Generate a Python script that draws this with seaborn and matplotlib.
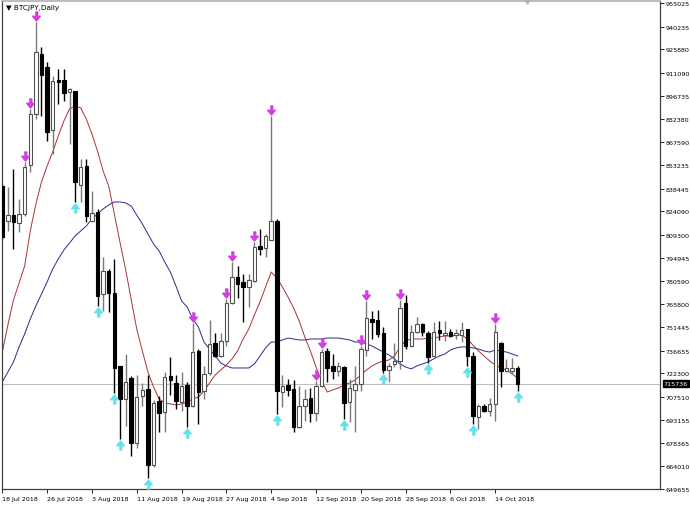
import numpy as np
import pandas as pd
import matplotlib
matplotlib.use("Agg")
import matplotlib.pyplot as plt
import matplotlib.transforms as mtransforms
import seaborn as sns

# daily BTCJPY candles, 18 Jul 2018 .. 18 Oct 2018
opens = [840000, 818100, 821800, 816800, 822500, 853200, 885300, 923000, 914800, 875200,
         906600, 906600, 899100, 899700, 840700, 852600, 818100, 823700, 772200, 786600,
         772800, 727000, 706200, 719400, 678600, 708100, 712500, 664800, 705000, 698100,
         720700, 716300, 704300, 715000, 701800, 736400, 711200, 722600, 741400, 733200,
         742700, 766500, 782900, 779700, 776600, 780400, 802300, 801100, 806100, 818100,
         710600, 715000, 712500, 688600, 701800, 706800, 697400, 714400, 736400, 727000,
         723800, 726300, 704300, 711900, 715600, 737000, 756500, 755900, 747700, 724400,
         728200, 730100, 766500, 739500, 748300, 753300, 747700, 733200, 749600, 746400,
         748300, 746400, 746400, 750200, 733200, 694900, 701800, 698700, 703100, 741400,
         723800, 723800, 725700]
highs = [841300, 839400, 850700, 831900, 855100, 888400, 943100, 927400, 918000, 909200,
         913600, 913600, 901600, 899700, 857000, 857000, 836900, 825600, 795400, 787900,
         794200, 727000, 734500, 720700, 721300, 716300, 721300, 705600, 708100, 723200,
         732600, 721300, 723200, 716900, 754000, 737600, 727000, 755900, 747700, 747700,
         769000, 792300, 789800, 784800, 784800, 804900, 813000, 809900, 884000, 819300,
         721300, 718800, 718200, 714400, 712500, 713100, 717500, 737600, 738300, 734500,
         729500, 727000, 718800, 727000, 739500, 767800, 761500, 762100, 751500, 728800,
         741400, 768400, 771600, 752700, 757700, 754000, 748900, 754600, 755200, 755200,
         750200, 750200, 754600, 750200, 735700, 703100, 703100, 706800, 753300, 742000,
         731400, 732000, 727000]
lows = [806700, 811800, 800500, 811100, 821200, 848800, 882100, 884000, 868300, 860200,
        891600, 893500, 866400, 830000, 830000, 817400, 817400, 764700, 761500, 760900,
        710000, 681100, 689300, 670400, 675400, 701800, 656600, 663500, 685500, 685500,
        708700, 699900, 698700, 688600, 701200, 690500, 706200, 721300, 732600, 732600,
        739500, 765900, 769700, 754600, 764000, 779700, 796700, 795400, 806100, 696800,
        701200, 708100, 685500, 688000, 692400, 691800, 692400, 713800, 716900, 718800,
        720700, 693700, 691800, 685500, 711200, 733200, 743900, 745200, 722600, 716900,
        726300, 725100, 737600, 738900, 747700, 745800, 728800, 732600, 743300, 742700,
        745200, 743900, 742000, 727000, 690500, 687400, 698000, 695500, 692400, 713800,
        723200, 721900, 711200]
closes = [808000, 821800, 817400, 822500, 852000, 885300, 924200, 909800, 874000, 906000,
          905400, 898500, 901000, 842600, 852000, 821200, 823100, 770900, 786600, 772800,
          725700, 706200, 716900, 678600, 707500, 711900, 664800, 703700, 697400, 720000,
          718200, 705000, 714400, 701800, 735700, 710600, 721900, 740800, 733200, 742700,
          766500, 782900, 778500, 776600, 781000, 801700, 800500, 808600, 818100, 711200,
          714400, 711900, 688600, 701800, 706200, 697400, 714400, 735700, 725700, 723800,
          727000, 703700, 713100, 715600, 737600, 757100, 754600, 747100, 724400, 727000,
          730100, 763400, 739500, 748300, 753300, 748300, 732600, 748300, 747700, 747700,
          745800, 747700, 749600, 733200, 695500, 701800, 698700, 703100, 748300, 723800,
          725700, 725700, 715736]

# moving averages as drawn on the chart
ma_fast = [735700, 752700, 768400, 779100, 789800, 811800, 828700, 842600, 852600, 861400,
           871500, 880900, 888400, 890300, 889100, 882100, 872700, 862000, 849500, 840000,
           822500, 804900, 787900, 769000, 750200, 736400, 723200, 713800, 706200, 703700,
           703100, 702500, 703100, 704300, 706200, 707500, 711200, 716300, 721300, 724400,
           727600, 731400, 736400, 743900, 750200, 759000, 767200, 776600, 786000, 782200,
           776600, 770300, 763400, 755200, 745200, 736400, 726300, 717500, 710600, 711900,
           713100, 715000, 716300, 718200, 721300, 724400, 727000, 728800, 730100, 730700,
           733200, 738900, 742700, 743900, 743900, 743900, 744500, 744500, 745200, 745800,
           745800, 746400, 746400, 743900, 740100, 736400, 733200, 730100, 727600, 725700,
           724400, 721900, 719400]
ma_slow = [716900, 723200, 729500, 738900, 747100, 756500, 764700, 772200, 779700, 787900,
           794200, 799800, 804200, 808600, 811800, 814900, 819300, 822500, 825600, 828100,
           830000, 830000, 829400, 827500, 821800, 816200, 809900, 803600, 799200, 792300,
           786000, 777200, 767800, 764000, 756500, 751500, 742000, 737600, 733200, 728800,
           727000, 725700, 725700, 725700, 725700, 728200, 733200, 738300, 742000, 742000,
           743300, 744500, 743900, 743300, 743300, 743900, 743900, 743900, 744500, 744500,
           744500, 743900, 743300, 742000, 742000, 740800, 739500, 737600, 735700, 733900,
           731400, 728200, 726300, 725100, 727000, 728200, 729500, 731400, 733200, 734500,
           737000, 738300, 738900, 738900, 738300, 737600, 736400, 735700, 737000, 736400,
           735700, 734500, 733200]

# candles marked by the arrow indicator
arrow_down = [4, 5, 6, 34, 40, 41, 45, 48, 56, 57, 64, 65, 71, 88]
arrow_up = [13, 17, 20, 21, 26, 33, 49, 61, 68, 76, 83, 84, 92]

ytick_vals = [955025, 940235, 925880, 911090, 896735, 882380, 867590, 853235, 838445,
              824090, 809300, 794945, 780590, 765800, 751445, 736655, 722300, 707510,
              693155, 678365, 664010, 649655]
xtick_pos = [0, 8, 16, 24, 32, 40, 48, 56, 64, 72, 80, 88]
xtick_labels = ['18 Jul 2018', '26 Jul 2018', '3 Aug 2018', '11 Aug 2018', '19 Aug 2018',
                '27 Aug 2018', '4 Sep 2018', '12 Sep 2018', '20 Sep 2018', '28 Sep 2018',
                '6 Oct 2018', '14 Oct 2018']

df = pd.DataFrame({'open': opens, 'high': highs, 'low': lows, 'close': closes,
                   'ma_fast': ma_fast, 'ma_slow': ma_slow})
df['i'] = np.arange(len(df))
up = df['close'] >= df['open']

sns.set_style('white')
plt.rcParams['font.family'] = ['DejaVu Sans']

fig = plt.figure(figsize=(6.9, 5.06), dpi=100)
ax = fig.add_axes([2 / 690, 16 / 506, 658 / 690, 488 / 506])

# current price line
last = closes[-1]
ax.axhline(last, color='#c0c0c0', lw=0.8, zorder=0)

# moving averages
sns.lineplot(data=df, x='i', y='ma_fast', color='#a83232', lw=0.7, ax=ax, zorder=1)
sns.lineplot(data=df, x='i', y='ma_slow', color='#2a2a8a', lw=0.7, ax=ax, zorder=1)

# wicks
ax.vlines(df['i'][up], df['low'][up], df['high'][up], color='#7a7a7a', lw=1.0, zorder=2)
ax.vlines(df['i'][~up], df['low'][~up], df['high'][~up], color='black', lw=1.0, zorder=2)

# bodies
body_h = (df['close'] - df['open']).abs().clip(lower=1500)
body_b = df[['open', 'close']].min(axis=1)
ax.bar(df['i'][up], body_h[up], bottom=body_b[up], width=0.62, color='white',
       edgecolor='#505050', linewidth=0.8, zorder=3)
ax.bar(df['i'][~up], body_h[~up], bottom=body_b[~up], width=0.62, color='black',
       edgecolor='black', linewidth=0.8, zorder=3)

# arrow markers
down_arrow = [(-0.28, 1), (0.28, 1), (0.28, 0.05), (0.85, 0.05), (0, -1), (-0.85, 0.05), (-0.28, 0.05)]
up_arrow = [(x, -y) for x, y in down_arrow]
off = 3700
ax.plot(df['i'][arrow_down], df['high'][arrow_down] + off, ls='none',
        marker=down_arrow, ms=6.5, color='#d23fe0', zorder=4)
ax.plot(df['i'][arrow_up], df['low'][arrow_up] - off, ls='none',
        marker=up_arrow, ms=6.5, color='#62e3ec', zorder=4)

ax.set_xlim(-0.05, 117.4)
ax.set_ylim(649655, 956265)

ax.yaxis.tick_right()
ax.set_yticks(ytick_vals)
ax.set_yticklabels([str(v) for v in ytick_vals])
ax.set_xticks(xtick_pos)
ax.set_xticklabels(xtick_labels, ha='left')
ax.tick_params(axis='both', length=3, width=0.6, labelsize=4.6, colors='black',
               direction='out')
ax.tick_params(axis='y', right=True, left=False, pad=1.2)
ax.tick_params(axis='x', bottom=True, pad=2)
ax.set_xlabel('')
ax.set_ylabel('')

for s in ['left', 'right', 'bottom']:
    ax.spines[s].set_color('#404040')
    ax.spines[s].set_linewidth(0.9)
ax.spines['top'].set_color('#b0b0b0')
ax.spines['top'].set_linewidth(1.2)

# last price tag
ax.text(1.0055, last, str(last), transform=mtransforms.blended_transform_factory(ax.transAxes, ax.transData),
        fontsize=4.6, color='white', va='center', ha='left',
        bbox=dict(boxstyle='square,pad=0.15', fc='black', ec='black'))

# title
ax.text(0.006, 0.993, '\u25bc BTCJPY,Daily', transform=ax.transAxes, fontsize=5.2,
        va='top', ha='left', color='black')

# shift marker at the top
ax.plot([93.7], [1.0], marker='v', ms=4, color='#b8b8b8', clip_on=False,
        transform=mtransforms.blended_transform_factory(ax.transData, ax.transAxes))

fig.savefig('out.png', dpi=100)
